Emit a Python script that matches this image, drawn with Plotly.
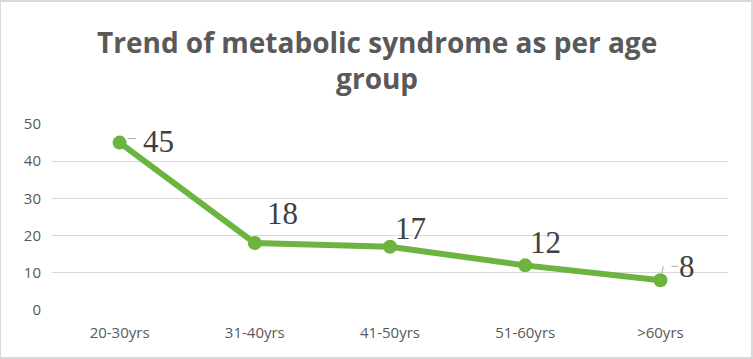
import plotly.graph_objects as go

categories = ["20-30yrs", "31-40yrs", "41-50yrs", "51-60yrs", ">60yrs"]
values = [45, 18, 17, 12, 8]
y_ticks = [0, 10, 20, 30, 40, 50]
title_text = "Trend of metabolic syndrome as per age<br>group"

label_shift = [(39, 1), (28, 30), (20, 18), (20, 23), (27, 14)]

GREEN = "#6CB33F"
fig = go.Figure()
fig.add_trace(go.Scatter(
    x=categories, y=values, mode="lines+markers",
    line=dict(color=GREEN, width=6),
    marker=dict(color=GREEN, size=14),
    hoverinfo="x+y", showlegend=False,
))

for c, v, (dx, dy) in zip(categories, values, label_shift):
    fig.add_annotation(
        x=c, y=v, text=str(v), showarrow=False,
        xshift=dx, yshift=dy,
        font=dict(family="Liberation Serif, Times New Roman, serif", size=31, color="#404040"),
    )

# leader lines for first and last labels
fig.add_annotation(x=categories[0], y=values[0], text="", showarrow=True, arrowhead=0,
                   arrowcolor="#A6A6A6", arrowwidth=1, ax=10, ay=0, xshift=8, yshift=4)
fig.add_annotation(x=categories[-1], y=values[-1], text="", showarrow=True, arrowhead=0,
                   arrowcolor="#A6A6A6", arrowwidth=1, ax=8, ay=0, xshift=11, yshift=14)
fig.add_annotation(x=categories[-1], y=values[-1], text="", showarrow=True, arrowhead=0,
                   arrowcolor="#A6A6A6", arrowwidth=1, ax=-2, ay=8, xshift=3, yshift=14)

# chart title
fig.add_annotation(
    xref="paper", yref="paper", x=(376.5 - 52) / 676, y=1 + (124 - 60) / 186,
    xanchor="center", yanchor="middle", showarrow=False, text=title_text,
    font=dict(family="Open Sans, Liberation Sans, sans-serif", size=28, color="#595959", weight="bold"),
)

fig.update_layout(
    width=753, height=359,
    margin=dict(l=52, r=25, t=124, b=49),
    paper_bgcolor="white", plot_bgcolor="white",
    xaxis=dict(
        type="category", range=[-0.5, 4.5], showgrid=False, showline=False,
        ticks="", tickfont=dict(family="Open Sans, sans-serif", size=15, color="#595959"),
        ticklabelstandoff=12,
    ),
    yaxis=dict(
        range=[0, 50], tickvals=y_ticks, showgrid=True, gridcolor="#D9D9D9", gridwidth=1,
        zeroline=False, showline=False, ticks="",
        tickfont=dict(family="Open Sans, sans-serif", size=15, color="#595959"),
        ticklabelstandoff=10,
    ),
    shapes=[dict(type="rect", xref="paper", yref="paper",
                 x0=-52 / 676, x1=1 + 24 / 676, y0=-48 / 186, y1=1 + 123 / 186,
                 line=dict(color="#D9D9D9", width=2), layer="below")],
)

fig.write_html("out.html", config={"displayModeBar": False},
               post_script="document.body.style.margin='0';")
